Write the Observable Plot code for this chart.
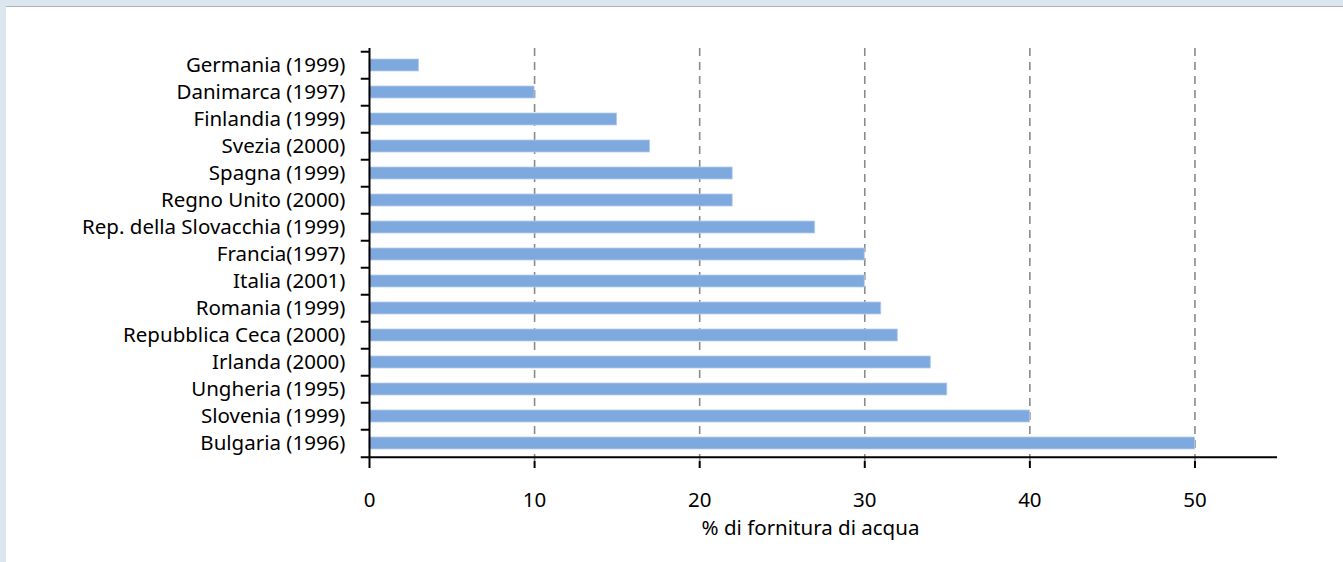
<!DOCTYPE html>
<html>
<head>
<meta charset="utf-8">
<script src="https://cdn.jsdelivr.net/npm/d3@7"></script>
<script src="https://cdn.jsdelivr.net/npm/@observablehq/plot@0.6"></script>
<style>
  html, body { margin: 0; padding: 0; background: #dce6ee; width: 1343px; height: 562px; overflow: hidden; }
  #panel { position: absolute; left: 6px; top: 6px; width: 1337px; height: 556px; background: #fff; border-top: 1px solid #a9b2ba; }
</style>
</head>
<body>
<div id="panel"></div>
<script>
const countries = [
  "Germania (1999)", "Danimarca (1997)", "Finlandia (1999)", "Svezia (2000)",
  "Spagna (1999)", "Regno Unito (2000)", "Rep. della Slovacchia (1999)",
  "Francia(1997)", "Italia (2001)", "Romania (1999)", "Repubblica Ceca (2000)",
  "Irlanda (2000)", "Ungheria (1995)", "Slovenia (1999)", "Bulgaria (1996)"
];
const values = [3, 10, 15, 17, 22, 22, 27, 30, 30, 31, 32, 34, 35, 40, 50];
const xTicks = [0, 10, 20, 30, 40, 50];
const gridTicks = [10, 20, 30, 40, 50];
const xLabel = "% di fornitura di acqua";

const data = countries.map((c, i) => ({country: c, value: values[i]}));

const W = 1337, H = 555;
const mTop = 41, mBottom = 101, mLeft = 363, mRight = 66;
const step = (H - mTop - mBottom) / countries.length;
const FS = 20.5;

const chart = Plot.plot({
  width: W,
  height: H,
  marginTop: mTop,
  marginBottom: mBottom,
  marginLeft: mLeft,
  marginRight: mRight,
  style: {fontFamily: "'Noto Sans', sans-serif", fontSize: FS + "px", color: "#000", background: "transparent"},
  x: {domain: [0, 55], axis: null},
  y: {domain: countries, paddingInner: 0.55, paddingOuter: 0.275, axis: null},
  marks: [
    Plot.ruleX(gridTicks, {stroke: "#8a8a8a", strokeWidth: 1.6, strokeDasharray: "8,6"}),
    Plot.barX(data, {x: "value", y: "country", fill: "#7ea9de", stroke: "#b6cdec", strokeWidth: 0.8}),
    Plot.ruleX([0], {stroke: "#000", strokeWidth: 2}),
    Plot.ruleY(countries, {x1: -0.5, x2: 0, dy: -step / 2, stroke: "#000", strokeWidth: 2}),
    Plot.ruleY([countries[countries.length - 1]], {x1: -0.5, x2: 55, dy: step / 2, stroke: "#000", strokeWidth: 2}),
    Plot.axisX(xTicks, {anchor: "bottom", tickSize: 7, tickPadding: 24, strokeWidth: 2, stroke: "#000", fontSize: FS, label: null}),
    Plot.axisY({anchor: "left", tickSize: 0, tickPadding: 24, fontSize: FS, label: null}),
    Plot.text([xLabel], {frameAnchor: "bottom", dy: 73, dx: -13, fontSize: FS, fill: "#000"})
  ]
});
document.getElementById("panel").appendChild(chart);
</script>
</body>
</html>
